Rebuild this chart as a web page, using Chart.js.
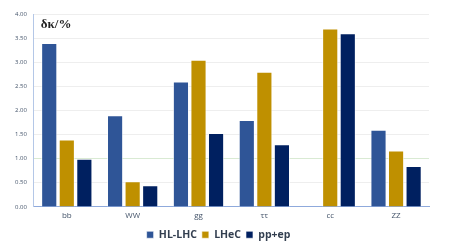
<!DOCTYPE html>
<html lang="en">
<head>
  <meta charset="UTF-8" />
  <title>δκ/% by channel</title>
  <script src="https://cdn.jsdelivr.net/npm/chart.js"></script>
  <style>
    html, body { margin: 0; padding: 0; background: #fff; }
    #wrap { width: 449px; height: 252px; }
  </style>
</head>
<body>
  <div id="wrap"><canvas id="chart"></canvas></div>

  <script>
    const categories = ['bb', 'WW', 'gg', 'ττ', 'cc', 'ZZ'];
    const hlLhc = [3.40, 1.90, 2.60, 1.80, null, 1.60];
    const lhec = [1.40, 0.53, 3.05, 2.80, 3.70, 1.17];
    const ppEp = [1.00, 0.45, 1.53, 1.30, 3.60, 0.85];
    const yTicks = [0, 0.5, 1, 1.5, 2, 2.5, 3, 3.5, 4];

    // title drawn inside the plot, top left
    const cornerTitle = {
      id: 'cornerTitle',
      afterDraw(chart) {
        const ctx = chart.ctx;
        ctx.save();
        ctx.font = 'bold 13px "Liberation Serif", serif';
        ctx.fillStyle = '#222';
        ctx.textBaseline = 'middle';
        ctx.fillText('δκ/%', chart.chartArea.left + 7, 25);
        ctx.restore();
      }
    };

    const bar = (label, data, color) => ({
      label: label,
      data: data,
      backgroundColor: color,
      borderColor: 'rgba(255,255,255,0.6)',
      borderWidth: 1,
      barPercentage: 0.92,
      categoryPercentage: 0.8
    });

    new Chart(document.getElementById('chart'), {
      type: 'bar',
      data: {
        labels: categories,
        datasets: [
          bar('HL-LHC', hlLhc, '#2F5597'),
          bar('LHeC', lhec, '#BF9000'),
          bar('pp+ep', ppEp, '#002060')
        ]
      },
      options: {
        responsive: true,
        maintainAspectRatio: false,
        animation: false,
        layout: { padding: { left: 8, right: 20, top: 14, bottom: 2 } },
        plugins: {
          tooltip: { enabled: false },
          legend: {
            position: 'bottom',
            labels: {
              boxWidth: 7,
              boxHeight: 7,
              padding: 5,
              color: '#333F50',
              font: { family: '"Open Sans", sans-serif', size: 10.5, weight: 'bold' }
            }
          }
        },
        scales: {
          x: {
            grid: { display: false, drawTicks: false },
            border: { color: '#8FAADC', width: 1 },
            ticks: {
              color: '#44546A',
              padding: 4,
              font: { family: '"Open Sans", sans-serif', size: 8 }
            }
          },
          y: {
            min: 0,
            max: 4,
            afterBuildTicks: axis => { axis.ticks = yTicks.map(v => ({ value: v })); },
            border: { color: '#B4C7E7', width: 1 },
            grid: {
              color: ctx => ctx.tick && ctx.tick.value === 1 ? '#D9EAD3' : '#EEEEEE',
              drawTicks: false
            },
            ticks: {
              color: '#44546A',
              padding: 7,
              font: { family: '"Open Sans", sans-serif', size: 6 },
              callback: v => Number(v).toFixed(2)
            }
          }
        }
      },
      plugins: [cornerTitle]
    });
  </script>
</body>
</html>
